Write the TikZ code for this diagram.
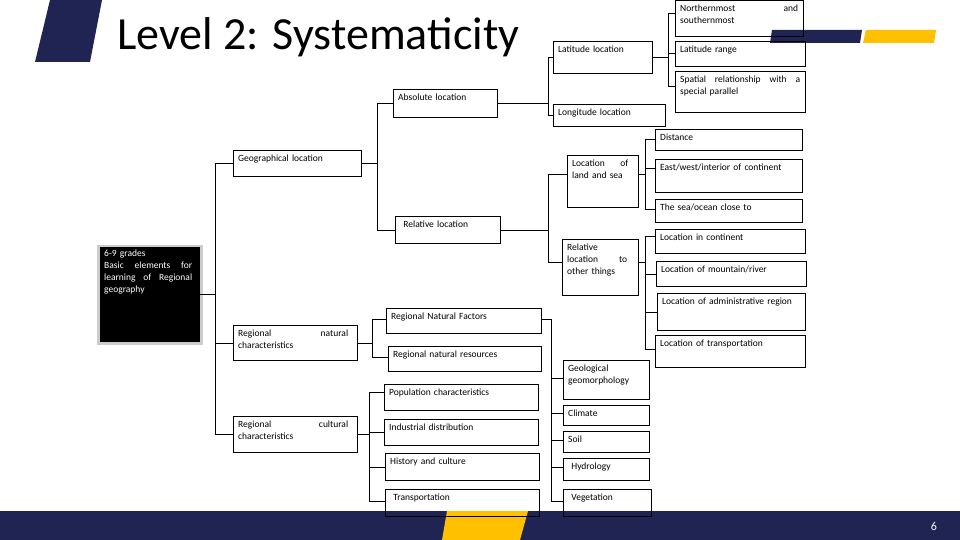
\documentclass[tikz,border=0pt]{standalone}
\usepackage{fontspec}
\setmainfont{Carlito}
\usetikzlibrary{calc}
\definecolor{navy}{HTML}{1F2452}
\definecolor{gold}{HTML}{FFC000}
\tikzset{boxs/.style={draw=black,line width=0.8pt,anchor=north west,inner sep=0pt},
txt/.style={anchor=north west,inner sep=0pt,font=\fontsize{9.5}{12}\selectfont,align=left},
ln/.style={line width=0.8pt}}
\newcommand{\bx}[7]{%
\node[boxs,minimum width=#4pt-#2pt,minimum height=#5pt-#3pt] (#1) at (#2,#3) {};
\node[txt,text width=#7pt] (#1-t) at ($(#2,#3)+(5,5)$) {#6};}
\begin{document}
\begin{tikzpicture}[x=1pt,y=-1pt]
\useasboundingbox (0,0) rectangle (960,540);
% decorations
\fill[navy] (50,0) -- (102,0) -- (90,62) -- (35,62) -- cycle;
\fill[navy] (772,30) -- (862,30) -- (860,43) -- (770,43) -- cycle;
\fill[gold] (866,30) -- (936,30) -- (934,43) -- (863,43) -- cycle;
\fill[navy] (0,511) rectangle (960,540);
\fill[gold] (447,511) -- (528,511) -- (520,540) -- (442,540) -- cycle;
\node[text=white,font=\fontsize{12}{14}\selectfont] (pg) at (934,526) {6};
\node[anchor=west,inner sep=0pt,font=\fontsize{46}{50}\selectfont] (title) at (117,37) {Level 2: Systematicity};
% root
\fill[gray!40] (97,245) rectangle (203,345);
\node[fill=black,minimum width=100pt,minimum height=95pt,anchor=north west,inner sep=0pt] (root) at (100,247) {};
\node[txt,text=white,text width=88pt] (root-t) at (104,250) {6-9 grades\\Basic\hfill elements\hfill for\\learning\hfill of\hfill Regional\\geography};
% level 1
\bx{geo}{233}{150}{361}{176}{Geographical location}{120}
\bx{nat}{233}{325}{357}{360}{Regional\hfill natural\\characteristics}{110}
\bx{cul}{233}{416}{357}{452}{Regional\hfill cultural\\characteristics}{110}
% level 2
\bx{abs}{393}{89}{497}{117}{Absolute location}{95}
\bx{rel}{395}{216}{500}{243}{\ Relative location}{95}
\bx{nf}{386}{308}{541}{333}{Regional Natural Factors}{145}
\bx{nr}{388}{346}{541}{371}{Regional natural resources}{145}
\bx{pop}{384}{384}{538}{410}{Population characteristics}{145}
\bx{ind}{384}{419}{538}{445}{Industrial distribution}{145}
\bx{his}{385}{453}{539}{480}{History and culture}{145}
\bx{tra}{385}{489}{539}{516}{\ Transportation}{145}
% level 3
\bx{lat}{553}{41}{652}{73}{Latitude location}{85}
\bx{lon}{553}{104}{665}{126}{Longitude location}{100}
\bx{ls}{567}{155}{638}{207}{Location\hfill of\\land and sea}{56}
\bx{ot}{562}{239}{638}{295}{Relative\\location\hfill to\\other things}{60}
\bx{geol}{563}{360}{649}{399}{Geological\\geomorphology}{78}
\bx{cli}{563}{405}{649}{425}{Climate}{78}
\bx{soi}{563}{431}{649}{452}{Soil}{78}
\bx{hyd}{563}{458}{649}{480}{\ Hydrology}{78}
\bx{veg}{563}{489}{651}{516}{\ Vegetation}{78}
% level 4
\bx{nor}{675}{0}{803}{36}{Northernmost\hfill and\\southernmost}{118}
\bx{lr}{675}{41}{805}{66}{Latitude range}{118}
\bx{sp}{675}{71}{805}{112}{Spatial\hfill relationship\hfill with\hfill a\\special parallel}{120}
\bx{dis}{655}{129}{802}{150}{Distance}{135}
\bx{ew}{655}{159}{802}{192}{East/west/interior of continent}{140}
\bx{sea}{655}{199}{802}{222}{The sea/ocean close to}{140}
\bx{lc}{655}{229}{805}{253}{Location in continent}{140}
\bx{mr}{656}{261}{806}{286}{Location of mountain/river}{140}
\bx{adm}{657}{293}{805}{330}{Location of administrative region}{145}
\bx{ltr}{655}{335}{805}{367}{Location of transportation}{140}
% buses
\coordinate (b0) at (215,0);
\coordinate (b1) at (377,0);
\coordinate (b2) at (548,0);
\coordinate (b3) at (668,0);
\coordinate (b4) at (548,0);
\coordinate (b5) at (645,0);
\coordinate (b6) at (645,0);
\coordinate (b7) at (372,0);
\coordinate (b8) at (551,0);
\coordinate (b9) at (369,0);
\draw[ln] (root.east) -- (root.east -| b0);
\draw[ln] (geo.west -| b0) -- (cul.west -| b0);
\foreach \c in {geo,nat,cul} \draw[ln] (\c.west -| b0) -- (\c.west);
\draw[ln] (geo.east) -- (geo.east -| b1);
\draw[ln] (abs.west -| b1) -- (rel.west -| b1);
\foreach \c in {abs,rel} \draw[ln] (\c.west -| b1) -- (\c.west);
\draw[ln] (abs.east) -- (abs.east -| b2);
\draw[ln] (lat.west -| b2) -- (lon.west -| b2);
\foreach \c in {lat,lon} \draw[ln] (\c.west -| b2) -- (\c.west);
\draw[ln] (lat.east) -- (lat.east -| b3);
\draw[ln] ($(nor.west -| b3)+(0,-5)$) -- ($(sp.west -| b3)+(0,-5)$);
\foreach \c in {nor,sp} \draw[ln] ($(\c.west -| b3)+(0,-5)$) -- ($(\c.west)+(0,-5)$);
\draw[ln] (lr.west -| b3) -- (lr.west);
\draw[ln] (rel.east) -- (rel.east -| b4);
\draw[ln] ($(ls.west -| b4)+(0,-7)$) -- ($(ot.west -| b4)+(0,-5)$);
\draw[ln] ($(ls.west -| b4)+(0,-7)$) -- ($(ls.west)+(0,-7)$);
\draw[ln] ($(ot.west -| b4)+(0,-5)$) -- ($(ot.west)+(0,-5)$);
\draw[ln] ($(ls.east)+(0,-7)$) -- ($(ls.east -| b5)+(0,-7)$);
\draw[ln] (dis.west -| b5) -- ($(sea.west -| b5)+(0,-2)$);
\draw[ln] (dis.west -| b5) -- (dis.west);
\draw[ln] ($(ew.west -| b5)+(0,-7)$) -- ($(ew.west)+(0,-7)$);
\draw[ln] ($(sea.west -| b5)+(0,-2)$) -- ($(sea.west)+(0,-2)$);
\draw[ln] ($(ot.east)+(0,-5)$) -- ($(ot.east -| b6)+(0,-5)$);
\draw[ln] ($(lc.west -| b6)+(0,-5)$) -- ($(ltr.west -| b6)+(0,-2)$);
\draw[ln] ($(lc.west -| b6)+(0,-5)$) -- ($(lc.west)+(0,-5)$);
\draw[ln] (mr.west -| b6) -- (mr.west);
\draw[ln] (adm.west -| b6) -- (adm.west);
\draw[ln] ($(ltr.west -| b6)+(0,-2)$) -- ($(ltr.west)+(0,-2)$);
\draw[ln] (nat.east) -- (nat.east -| b7);
\draw[ln] ($(nf.west -| b7)+(0,-2)$) -- ($(nr.west -| b7)+(0,-2)$);
\foreach \c in {nf,nr} \draw[ln] ($(\c.west -| b7)+(0,-2)$) -- ($(\c.west)+(0,-2)$);
\draw[ln] ($(nf.east)+(0,-2)$) -- ($(nf.east -| b8)+(0,-2)$);
\draw[ln] ($(nf.east -| b8)+(0,-2)$) -- ($(veg.west -| b8)+(0,-2)$);
\foreach \c in {geol,cli,soi,hyd,veg} \draw[ln] ($(\c.west -| b8)+(0,-2)$) -- ($(\c.west)+(0,-2)$);
\draw[ln] (cul.east) -- (cul.east -| b9);
\draw[ln] ($(pop.west -| b9)+(0,-5)$) -- ($(tra.west -| b9)+(0,-2)$);
\draw[ln] ($(pop.west -| b9)+(0,-5)$) -- ($(pop.west)+(0,-5)$);
\draw[ln] (ind.west -| b9) -- (ind.west);
\draw[ln] (his.west -| b9) -- (his.west);
\draw[ln] ($(tra.west -| b9)+(0,-2)$) -- ($(tra.west)+(0,-2)$);
\end{tikzpicture}
\end{document}
